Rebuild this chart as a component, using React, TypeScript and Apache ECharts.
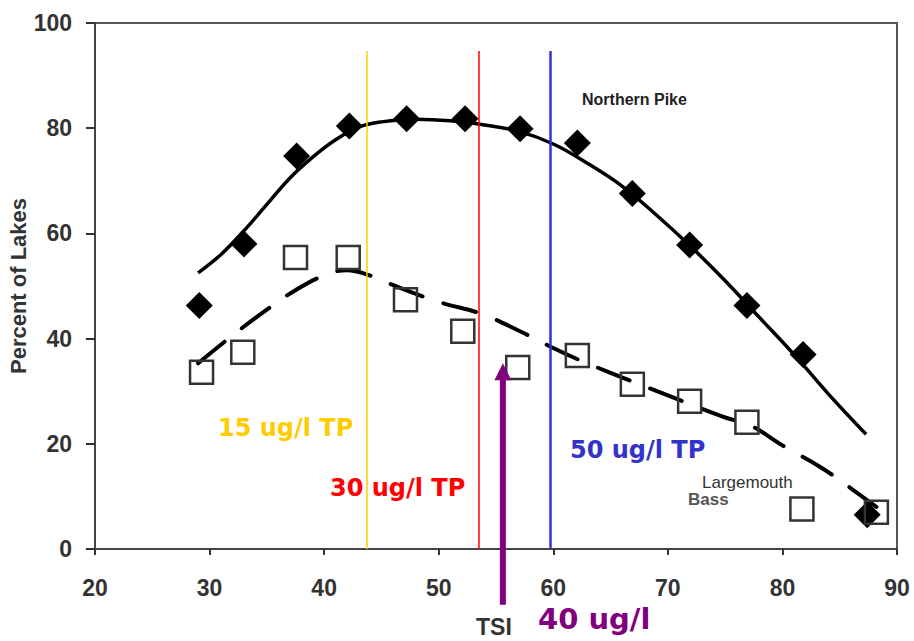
import React, { useEffect, useRef } from "react";
import * as echarts from "echarts";

// Observed data points
const pikeX = [29.1, 33.0, 37.6, 42.2, 47.2, 52.3, 57.1, 62.1, 66.9, 71.9, 76.9, 81.8, 87.4];
const pikeY = [46.3, 58.0, 74.7, 80.4, 81.8, 81.8, 79.9, 77.2, 67.6, 57.8, 46.3, 37.0, 6.5];
const bassX = [29.3, 32.9, 37.5, 42.1, 47.1, 52.1, 56.9, 62.1, 66.9, 71.9, 76.9, 81.7, 88.2];
const bassY = [33.6, 37.4, 55.4, 55.4, 47.4, 41.4, 34.5, 36.8, 31.3, 28.1, 24.1, 7.6, 7.0];

// Fitted curves
const pikeFitX = [29, 31, 33, 35, 37, 39, 41, 43, 45, 48, 51, 54, 57, 60, 63, 66, 69, 72, 75, 78, 81, 84, 87.3];
const pikeFitY = [52.5, 56, 60.5, 65.5, 70.5, 74.5, 77.8, 80.2, 81.2, 81.7, 81.4, 80.6, 79.4, 77, 73.3, 69, 63.5, 57.5, 51, 44, 37, 29.5, 21.8];
const bassFitX = [29, 32, 35, 37.5, 40, 42, 44, 46, 48, 50.4, 53.6, 57, 60, 62.3, 65, 67.3, 70, 72.2, 75, 77.2, 80, 83.3, 86, 88.2];
const bassFitY = [35.3, 40.6, 45.5, 49.2, 52, 53, 52, 50.2, 48.5, 46.7, 44.8, 41.5, 38.2, 35.9, 33.5, 31.5, 29.2, 27.3, 25, 23.5, 19.7, 15.6, 11.5, 8];

// Reference lines (TSI values)
const refX = [43.7, 53.5, 59.7];
const refTop = 94.7;
const refColors = ["#FFCC00", "#FF0000", "#3333CC"];
const refWidths = [1.5, 1.5, 2.5];
// Arrow: [x, from y, to y]
const arrowData = [[55.6, -10.6, 35.3]];

const xMin = 20, xMax = 90, xInterval = 10;
const yMin = 0, yMax = 100, yInterval = 20;

const zip = (xs: number[], ys: number[]) => xs.map((x, i) => [x, ys[i]]);

export default function App() {
  const ref = useRef<HTMLDivElement>(null);
  useEffect(() => {
    if (!ref.current) return;
    const chart = echarts.init(ref.current, null, { renderer: "svg" });
    const axisFont = { fontFamily: "Liberation Sans, Arial, sans-serif", fontWeight: "bold" as const, fontSize: 23, color: "#333" };
    const labelFont = "DejaVu Sans, Verdana, sans-serif";
    chart.setOption({
      animation: false,
      backgroundColor: "#fff",
      grid: {
        left: 95, right: 17, top: 23, bottom: 92, show: true, borderColor: "#555", borderWidth: 2,
        containLabel: false, outerBoundsMode: "none",
      },
      xAxis: {
        type: "value", min: xMin, max: xMax, interval: xInterval,
        axisLine: { show: true, lineStyle: { color: "#444", width: 2 } },
        axisTick: { show: true, length: 6, lineStyle: { color: "#333", width: 2 } },
        axisLabel: { ...axisFont, margin: 27 },
        splitLine: { show: false },
      },
      yAxis: {
        type: "value", min: yMin, max: yMax, interval: yInterval,
        name: "Percent of Lakes", nameLocation: "middle", nameRotate: 90, nameGap: 66, nameMoveOverlap: false,
        nameTextStyle: { fontFamily: "Liberation Sans, Arial, sans-serif", fontWeight: "bold", fontSize: 22, color: "#333" },
        axisLine: { show: true, lineStyle: { color: "#444", width: 2 } },
        axisTick: { show: true, length: 9, lineStyle: { color: "#333", width: 2 } },
        axisLabel: { ...axisFont, margin: 23 },
        splitLine: { show: false },
      },
      series: [
        {
          type: "line", data: zip(pikeFitX, pikeFitY), smooth: 0.4, showSymbol: false, symbol: "none",
          lineStyle: { color: "#000", width: 3.5 }, z: 2,
        },
        {
          type: "line", data: zip(bassFitX, bassFitY), smooth: 0.4, showSymbol: false, symbol: "none",
          lineStyle: { color: "#000", width: 4, type: [34, 22], cap: "round" }, z: 2,
        },
        {
          type: "line", data: [], clip: false, z: 1,
          markLine: {
            silent: true, symbol: ["none", "none"], label: { show: false },
            data: refX.map((x, i) => [
              { coord: [x, 0], lineStyle: { color: refColors[i], width: refWidths[i], type: "solid", opacity: 1 } },
              { coord: [x, refTop] },
            ]),
          },
        },
        {
          type: "custom", data: arrowData, clip: false, z: 6, silent: true,
          renderItem: (params: any, api: any) => {
            const x = api.value(0);
            const p0 = api.coord([x, api.value(1)]);
            const p1 = api.coord([x, api.value(2)]);
            const headH = 17, headW = 17;
            return {
              type: "group",
              children: [
                { type: "line", shape: { x1: p0[0], y1: p0[1], x2: p1[0], y2: p1[1] + headH - 1 }, style: { stroke: "#800080", lineWidth: 6 } },
                { type: "polygon", shape: { points: [[p1[0], p1[1]], [p1[0] - headW / 2, p1[1] + headH], [p1[0] + headW / 2, p1[1] + headH]] }, style: { fill: "#800080" } },
              ],
            };
          },
        },
        {
          type: "scatter", data: zip(pikeX, pikeY), symbol: "diamond", symbolSize: 27,
          itemStyle: { color: "#000", opacity: 1 }, z: 4,
        },
        {
          type: "scatter", data: zip(bassX, bassY), symbol: "rect", symbolSize: 23,
          itemStyle: { color: "rgba(255,255,255,0)", borderColor: "#333", borderWidth: 2.5, opacity: 1 }, z: 4,
        },
      ],
      graphic: [
        { type: "text", left: 582, top: 91, style: { text: "Northern Pike", fill: "#222", font: "bold 16px 'Liberation Sans', Arial, sans-serif" } },
        { type: "text", left: 702, top: 474, style: { text: "Largemouth", fill: "#333", font: "17px 'Liberation Sans', Arial, sans-serif" } },
        { type: "text", left: 688, top: 491, style: { text: "Bass", fill: "#555", font: "bold 17px 'Liberation Sans', Arial, sans-serif" } },
        { type: "text", left: 218, top: 416, style: { text: "15 ug/l TP", fill: "#FFCC00", font: `bold 24px ${labelFont}` } },
        { type: "text", left: 330, top: 476, style: { text: "30 ug/l TP", fill: "#FF0000", font: `bold 24px ${labelFont}` } },
        { type: "text", left: 570, top: 438, style: { text: "50 ug/l TP", fill: "#3333CC", font: `bold 24px ${labelFont}` } },
        { type: "text", left: 476, top: 615, style: { text: "TSI", fill: "#333", font: "bold 23px 'Liberation Sans', Arial, sans-serif" } },
        { type: "text", left: 538, top: 604, style: { text: "40 ug/l", fill: "#800080", font: `bold 29px ${labelFont}` } },
      ],
    });
    return () => chart.dispose();
  }, []);
  return <div ref={ref} style={{ position: "fixed", left: 0, top: 0, width: 914, height: 641 }} />;
}
